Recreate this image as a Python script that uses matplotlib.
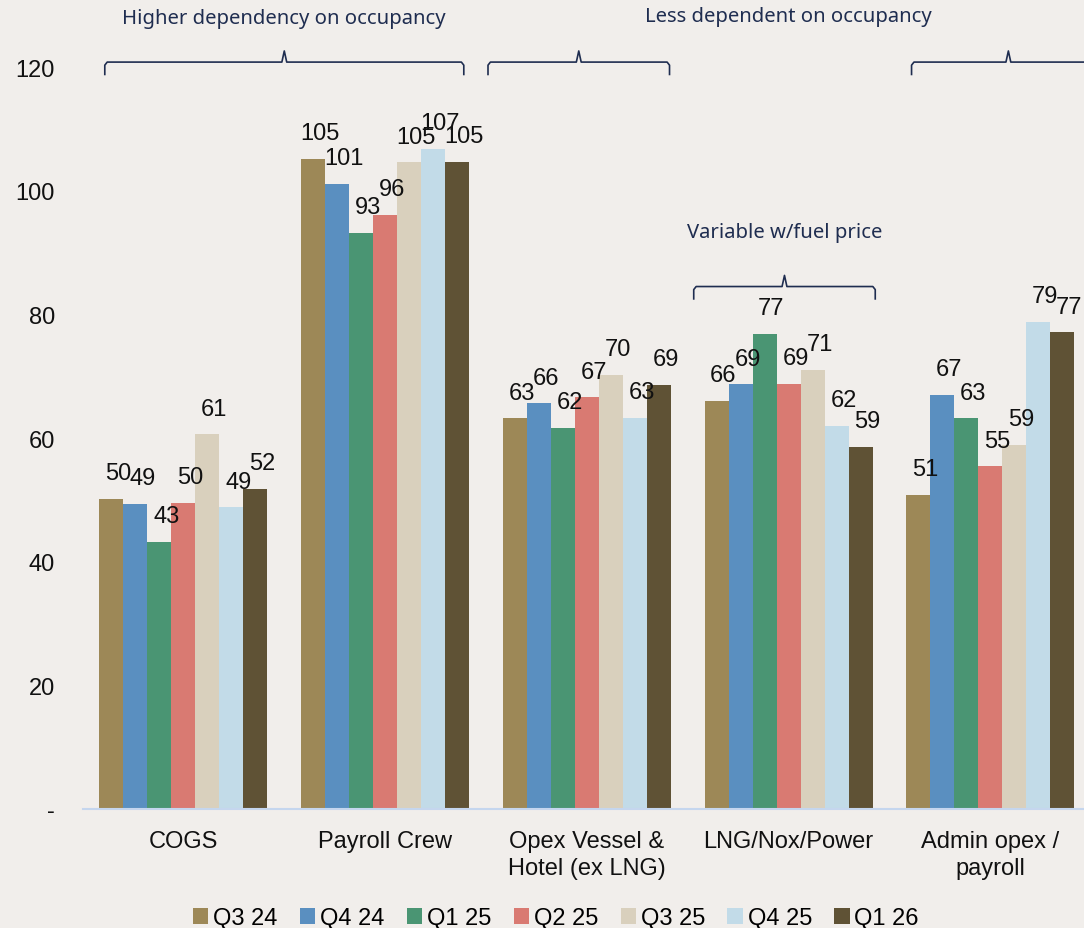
import numpy as np
import matplotlib.pyplot as plt

# cost per category, one list per quarter
categories = ['COGS', 'Payroll Crew', 'Opex Vessel &\nHotel (ex LNG)', 'LNG/Nox/Power', 'Admin opex /\npayroll']
quarters = ['Q3 24', 'Q4 24', 'Q1 25', 'Q2 25', 'Q3 25', 'Q4 25', 'Q1 26']
q3_24 = [50.2, 105.1, 63.2, 66.0, 50.8]
q4_24 = [49.3, 101.1, 65.6, 68.7, 67.0]
q1_25 = [43.2, 93.2, 61.6, 76.8, 63.2]
q2_25 = [49.5, 96.1, 66.6, 68.8, 55.4]
q3_25 = [60.6, 104.6, 70.2, 71.0, 58.9]
q4_25 = [48.8, 106.8, 63.3, 62.0, 78.8]
q1_26 = [51.8, 104.7, 68.6, 58.6, 77.1]
series = [q3_24, q4_24, q1_25, q2_25, q3_25, q4_25, q1_26]
colors = ['#9d8857', '#5a8fc0', '#4a9573', '#d97a72', '#d9d0bd', '#c2dbe8', '#5f5235']

bg = '#f1eeeb'
navy = '#1f2d50'
plt.rcParams['font.family'] = ['Liberation Sans', 'DejaVu Sans']

fig = plt.figure(figsize=(10.84, 9.29), dpi=100, facecolor=bg)
ax = fig.add_axes([82.6 / 1084, 119 / 929, 1001.4 / 1084, 803.8 / 929])
ax.set_facecolor(bg)

x = np.arange(len(categories))
w = 0.119
for i, (vals, c) in enumerate(zip(series, colors)):
    pos = x + (i - 3) * w
    ax.bar(pos, vals, width=w, color=c, label=quarters[i], zorder=2)
    for px, v in zip(pos, vals):
        ax.annotate(f'{v:.0f}', (px, v), xytext=(5, 18.5), textcoords='offset points',
                    ha='center', va='center', fontsize=17, color='#111111')

ax.set_xlim(-0.5, 4.465)
ax.set_ylim(0, 130)
ax.set_yticks([0, 20, 40, 60, 80, 100, 120])
ax.set_yticklabels(['-', '20', '40', '60', '80', '100', '120'])
ax.set_xticks(x)
ax.set_xticklabels(categories, fontsize=17, linespacing=1.3, va='top')
ax.tick_params(axis='both', length=0, labelsize=17, colors='#111111')
ax.tick_params(axis='y', pad=20)
ax.tick_params(axis='x', pad=15)
for s in ['top', 'right', 'left']:
    ax.spines[s].set_visible(False)
ax.spines['bottom'].set_color('#c5d6ee')
ax.spines['bottom'].set_linewidth(1.5)


def brace(x0, x1, y, text=None, ty=None):
    # curly bracket drawn in data coordinates, tip in the middle
    xm = (x0 + x1) / 2
    kw = dict(color=navy, lw=1.2, clip_on=False, zorder=3)
    d = 0.012
    ax.plot([x0, x0, x0 + d, xm - d, xm, xm + d, x1 - d, x1, x1],
            [y - 2.0, y - 0.5, y, y, y + 1.8, y, y, y - 0.5, y - 2.0], **kw)
    if text:
        ax.text(xm, ty, text, ha='center', va='center', fontsize=14.6,
                color=navy, family='Noto Sans', clip_on=False)


brace(-0.39, 1.39, 120.8, 'Higher dependency on occupancy', 128.0)
brace(1.51, 2.41, 120.8)
brace(2.53, 3.43, 84.5, 'Variable w/fuel price', 93.3)
brace(3.61, 4.57, 120.8)
ax.text(3.0, 128.2, 'Less dependent on occupancy', ha='center', va='center',
        fontsize=14.6, color=navy, family='Noto Sans', clip_on=False)

fig.legend(loc='center', bbox_to_anchor=(556 / 1084, 10 / 929), ncol=7, frameon=False,
           fontsize=17, handlelength=0.65, handleheight=0.65, handletextpad=0.2,
           columnspacing=0.95, borderaxespad=0)

fig.savefig('out.png', dpi=100, facecolor=bg)
